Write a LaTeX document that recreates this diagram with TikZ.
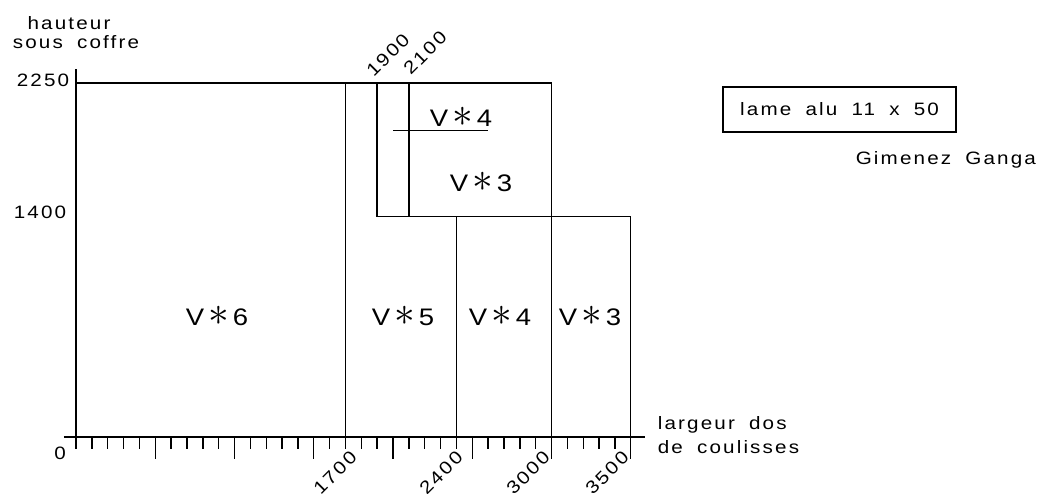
\documentclass[tikz,border=0pt]{standalone}
\usepackage{fontspec}
\setmainfont{Liberation Sans}[FakeStretch=1.15,LetterSpace=12,WordSpace=1.8]
\usetikzlibrary{positioning}

\newcommand{\vstar}{\,{\fontsize{20}{20}\selectfont$\ast$}\,}

\begin{document}
\begin{tikzpicture}[x=0.07925bp, y=0.07865bp, line width=0.7bp,
  txt/.style={font=\fontsize{9}{11}\selectfont, inner sep=0pt},
  zone/.style={font=\fontsize{12}{14}\selectfont, inner sep=0pt}]
\useasboundingbox (-479.5,-362) rectangle (6069,2778);

% Axes
\draw (-76,0) -- (3590,0);
\draw (0,0) -- (0,2339);
\foreach \t in {0,100,...,3500} \draw (\t,0) -- (\t,-76);
\foreach \t in {500,1000,...,3500} \draw (\t,0) -- (\t,-140);

% Zones
\draw (0,2250) -- (3000,2250) -- (3000,0);
\draw (1700,0) -- (1700,2250);
\draw (1900,2250) -- (1900,1400) -- (3500,1400) -- (3500,0);
\draw (2100,2250) -- (2100,1400);
\draw (2400,1400) -- (2400,0);
\draw (2000,1950) -- (2600,1950);

% Zone labels
\node[zone] (v6) at (890,769) {V\vstar 6};
\node[zone] (v5) at (2063,769) {V\vstar 5};
\node[zone] (v4) at (2675,769) {V\vstar 4};
\node[zone] (v3) at (3243,769) {V\vstar 3};
\node[zone] (v4top) at (2429,2034) {V\vstar 4};
\node[zone] (v3top) at (2555,1621) {V\vstar 3};

% Axis labels
\node[txt] (hauteur) at (-44,2632) {hauteur};
\node[txt] (coffre) at (0,2511) {sous coffre};
\node[txt] (h2250) at (-208,2270) {2250};
\node[txt] (h1400) at (-227,1430) {1400};
\node[txt] (zero) at (-101,-102) {0};
\node[txt, rotate=45] (w1900) at (1968,2428) {1900};
\node[txt, rotate=45] (w2100) at (2202,2441) {2100};
\foreach \t/\c in {1700/1634, 2400/2303, 3000/2852, 3500/3350}
  \node[txt, rotate=45] (w\t) at (\c,-228) {\t};
\node[txt, anchor=west] (largeur) at (3666,76) {largeur dos};
\node[txt, anchor=west] (coulisses) at (3666,-64) {de coulisses};

% Legend
\node[txt, draw, minimum width=116.5bp, minimum height=22.5bp] (lame) at (4817,2082) {lame alu 11 x 50};
\node[txt, anchor=west] (nom) at (4915,1761) {Gimenez Ganga};
\end{tikzpicture}
\end{document}
